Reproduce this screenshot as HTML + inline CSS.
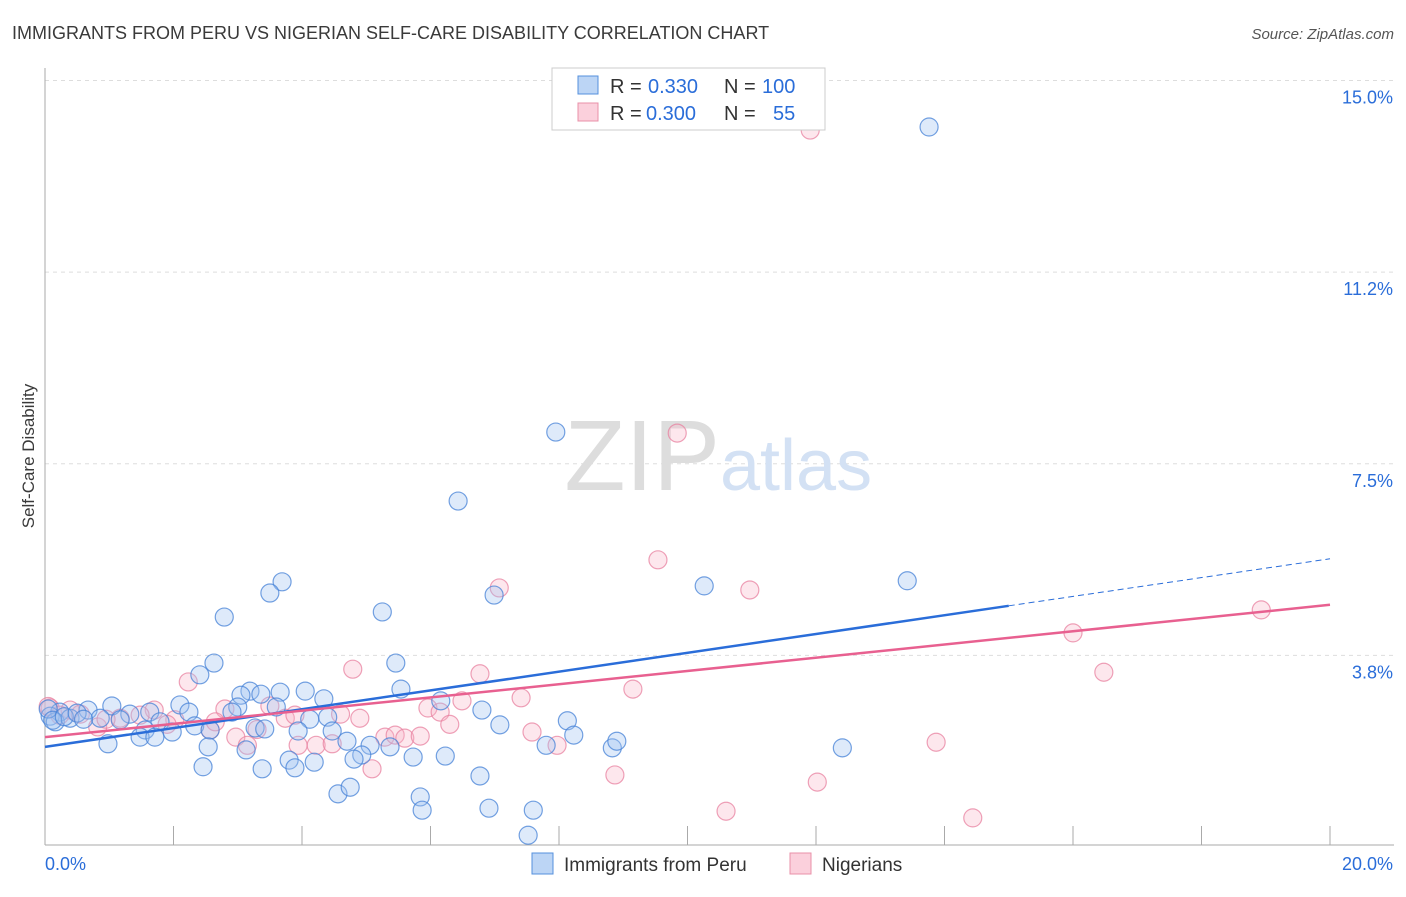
<!DOCTYPE html>
<html><head><meta charset="utf-8"><style>
body{margin:0;background:#fff;font-family:"Liberation Sans",sans-serif}
svg text{font-family:"Liberation Sans",sans-serif}
</style></head><body>
<svg id="chart" width="1406" height="892" xmlns="http://www.w3.org/2000/svg">
<text x="12" y="39" font-size="18" fill="#3a3a3a">IMMIGRANTS FROM PERU VS NIGERIAN SELF-CARE DISABILITY CORRELATION CHART</text>
<text x="1394" y="39" font-size="15" fill="#555" text-anchor="end" font-style="italic">Source: ZipAtlas.com</text>
<text x="0" y="0" transform="translate(34,456) rotate(-90)" font-size="17" fill="#3a3a3a" text-anchor="middle">Self-Care Disability</text>
<g id="grid"></g>
<text x="720" y="490" font-size="100" fill="#ddd" text-anchor="end" font-family="Liberation Serif">ZIP</text>
<text x="720" y="490" font-size="72" fill="#d3e1f4">atlas</text>
<g id="pts"></g>
<g id="trend"></g>
<g>
<rect x="552" y="68" width="273" height="62" fill="#fff" stroke="#ccc"/>
<rect x="578" y="76" width="20" height="18" fill="#bcd5f5" stroke="#5590dd"/>
<rect x="578" y="103" width="20" height="18" fill="#fbd0dc" stroke="#e890a8"/>
<text x="610" y="93" font-size="20" fill="#333">R =</text>
<text x="648" y="93" font-size="20" fill="#2a6dd9">0.330</text>
<text x="724" y="93" font-size="20" fill="#333">N =</text>
<text x="762" y="93" font-size="20" fill="#2a6dd9">100</text>
<text x="610" y="120" font-size="20" fill="#333">R =</text>
<text x="646" y="120" font-size="20" fill="#2a6dd9">0.300</text>
<text x="724" y="120" font-size="20" fill="#333">N =</text>
<text x="773" y="120" font-size="20" fill="#2a6dd9">55</text>
</g>
<g>
<rect x="532" y="853" width="21" height="21" fill="#bcd5f5" stroke="#5590dd"/>
<text x="564" y="871" font-size="19" fill="#333">Immigrants from Peru</text>
<rect x="790" y="853" width="21" height="21" fill="#fbd0dc" stroke="#e890a8"/>
<text x="822" y="871" font-size="19" fill="#333">Nigerians</text>
</g>
</svg>
<script>
const xTicks=[0,20];
const yTicks=[3.75,7.5,11.25,15];
const yTickLabels=["3.8%","7.5%","11.2%","15.0%"];
const peruX=[13.76,7.95,6.43,3.69,3.50,2.79,5.25,6.99,10.26,13.42,2.63,2.41,5.46,5.54,4.05,3.19,3.05,3.36,3.66,4.34,2.10,1.04,2.24,3.00,3.60,6.16,6.80,8.13,8.23,7.08,4.40,4.12,2.91,1.63,1.32,0.67,0.23,0.08,0.16,0.39,0.86,1.17,1.79,2.33,2.57,1.98,1.56,1.48,1.71,3.27,3.42,3.94,4.47,4.70,5.06,5.37,0.98,2.54,3.13,4.93,4.81,5.73,6.23,7.80,8.83,8.90,12.41,3.80,4.19,3.89,2.46,3.38,6.77,4.56,4.75,5.84,5.87,6.91,7.60,7.52,0.05,0.12,0.30,0.50,0.60];
const peruY=[14.09,8.12,6.77,5.19,4.97,4.50,4.60,4.93,5.11,5.21,3.60,3.37,3.60,3.09,3.05,3.05,2.97,2.99,3.03,2.90,2.78,2.76,2.64,2.74,2.74,2.86,2.68,2.47,2.19,2.39,2.54,2.50,2.64,2.64,2.60,2.68,2.64,2.56,2.45,2.52,2.52,2.49,2.45,2.37,2.29,2.25,2.29,2.15,2.15,2.33,2.31,2.27,2.27,2.07,1.99,1.96,2.02,1.96,1.90,1.80,1.72,1.76,1.78,1.99,1.94,2.07,1.94,1.70,1.66,1.55,1.57,1.53,1.39,1.04,1.17,0.98,0.72,0.76,0.72,0.23,2.70,2.48,2.55,2.62,2.50];
const nigX=[11.91,9.84,9.54,7.07,10.97,18.93,16.00,16.48,4.79,6.77,2.23,9.15,7.41,2.80,1.70,0.39,0.08,0.23,3.50,5.96,6.15,6.49,4.90,3.74,3.89,2.02,0.82,2.57,2.97,3.15,3.94,4.22,4.47,5.29,5.45,5.60,5.84,7.58,7.97,13.87,5.09,8.87,12.02,10.60,14.44,1.48,1.17,0.05,0.55,1.90,2.65,3.30,4.60,6.30,0.95];
const nigY=[14.03,8.10,5.62,5.07,5.03,4.64,4.19,3.42,3.48,3.39,3.23,3.09,2.92,2.70,2.68,2.68,2.72,2.58,2.76,2.72,2.64,2.86,2.52,2.52,2.58,2.49,2.35,2.29,2.15,1.99,1.99,1.99,2.02,2.15,2.19,2.13,2.17,2.25,1.99,2.05,1.53,1.41,1.27,0.70,0.57,2.58,2.52,2.75,2.60,2.40,2.45,2.30,2.60,2.40,2.50];
const peruTrend=[1.96,5.64], nigTrend=[2.15,4.74];
const X=v=>45+v/20*1285, Y=v=>847-v*51.1;
const NS='http://www.w3.org/2000/svg';
function mk(tag,attrs,parent){const e=document.createElementNS(NS,tag);for(const k in attrs)e.setAttribute(k,attrs[k]);parent.appendChild(e);return e;}
const grid=document.getElementById('grid');
yTicks.forEach((t,i)=>{
 const l=mk('line',{x1:45,x2:1394,y1:Y(t),y2:Y(t),stroke:'#ddd','stroke-dasharray':'4,4'},grid);
 
 
 const tx=mk('text',{x:1393,y:Y(t)+23,'font-size':18,fill:'#2a6dd9','text-anchor':'end'},grid);
 tx.textContent=yTickLabels[i];
 
 
});
const ax=mk('line',{x1:45,x2:1394,y1:845,y2:845,stroke:'#aaa'},grid);


const ay=mk('line',{x1:45,x2:45,y1:68,y2:845,stroke:'#aaa'},grid);


for(let i=1;i<=10;i++){const t=mk('line',{x1:X(i*2),x2:X(i*2),y1:826,y2:845,stroke:'#aaa'},grid);
 
 }
xTicks.forEach((t,i)=>{const tx=mk('text',{x:i?1393:45,y:870,'font-size':18,fill:'#2a6dd9','text-anchor':i?'end':'start'},grid);
 tx.textContent=t.toFixed(1)+'%';
 
 });
const pts=document.getElementById('pts');
nigX.forEach((v,i)=>{const c=mk('circle',{cx:X(v),cy:Y(nigY[i]),r:9,fill:'rgba(248,180,200,0.32)',stroke:'rgba(232,130,160,0.75)','stroke-width':1.2},pts);
 
 });
peruX.forEach((v,i)=>{const c=mk('circle',{cx:X(v),cy:Y(peruY[i]),r:9,fill:'rgba(160,195,240,0.35)',stroke:'rgba(70,130,215,0.75)','stroke-width':1.2},pts);
 
 });
const tr=document.getElementById('trend');
const pAt=x=>peruTrend[0]+(peruTrend[1]-peruTrend[0])*x/20;
let l1=mk('line',{x1:X(0),y1:Y(pAt(0)),x2:X(15),y2:Y(pAt(15)),stroke:'#2a6dd9','stroke-width':2.5},tr);


let l2=mk('line',{x1:X(15),y1:Y(pAt(15)),x2:X(20),y2:Y(pAt(20)),stroke:'#2a6dd9','stroke-width':1,'stroke-dasharray':'6,4'},tr);


let l3=mk('line',{x1:X(0),y1:Y(nigTrend[0]),x2:X(20),y2:Y(nigTrend[1]),stroke:'#e86090','stroke-width':2.5},tr);


</script>
</body></html>
